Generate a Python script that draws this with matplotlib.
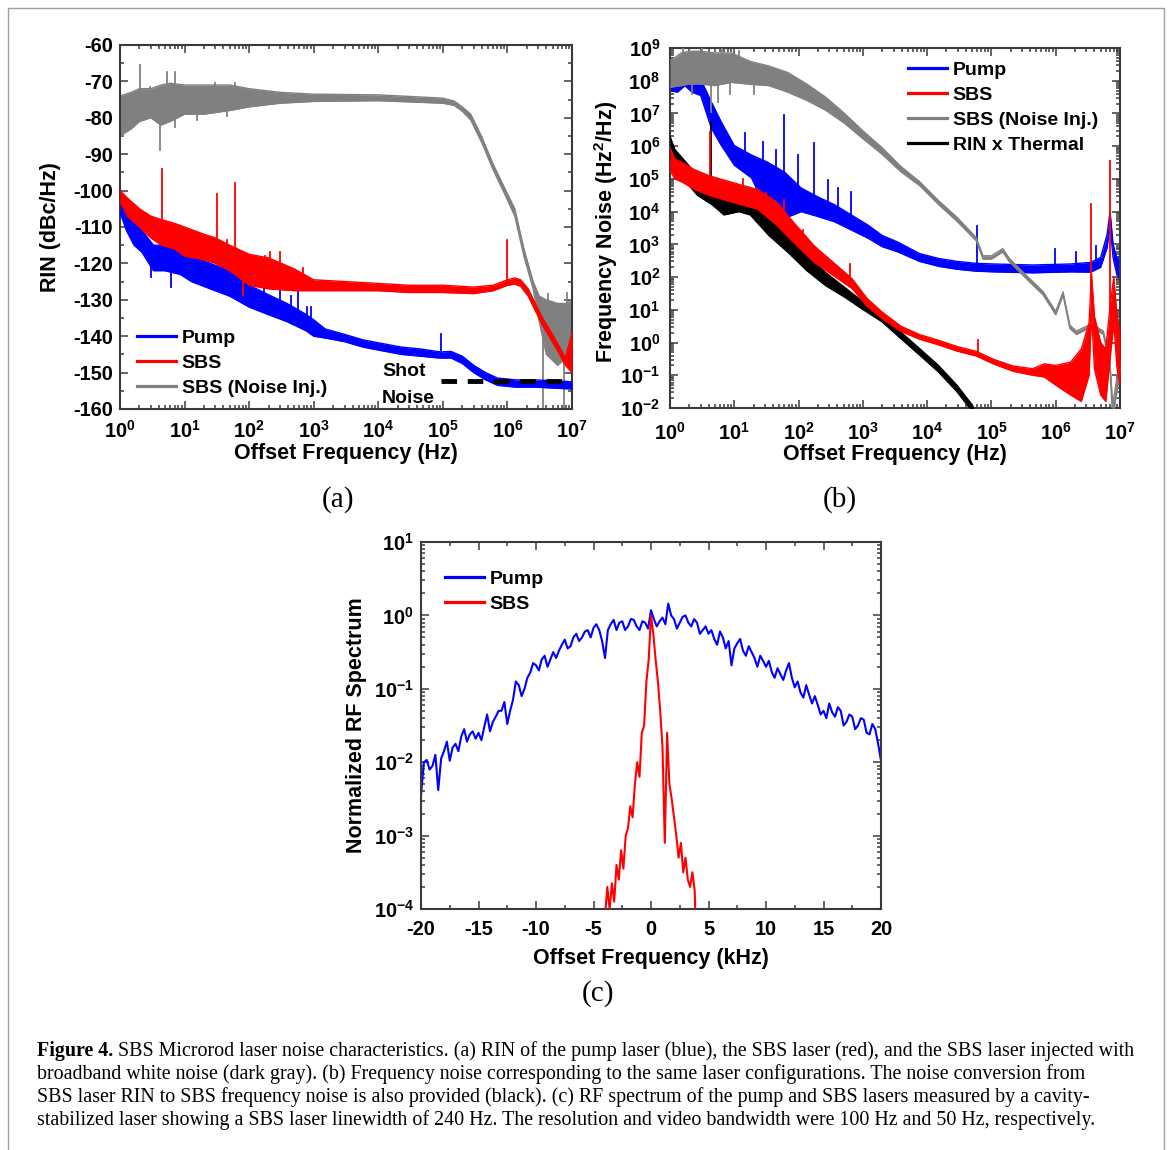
import numpy as np
import matplotlib.pyplot as plt
from matplotlib.ticker import LogLocator, MultipleLocator, FuncFormatter, NullFormatter
from matplotlib.lines import Line2D

plt.rcParams['font.family'] = ['Liberation Sans', 'DejaVu Sans']
plt.rcParams['font.weight'] = 'bold'
plt.rcParams['axes.labelweight'] = 'bold'
plt.rcParams['axes.unicode_minus'] = False
plt.rcParams['mathtext.fontset'] = 'custom'
plt.rcParams['mathtext.rm'] = 'Liberation Sans:bold'
plt.rcParams['mathtext.bf'] = 'Liberation Sans:bold'
plt.rcParams['mathtext.it'] = 'Liberation Sans:bold'

BLUE, RED, GRAY, BLACK = '#0000ff', '#ff0000', '#808080', '#000000'

# ---------------- (a) RIN (dBc/Hz), noise band ----------------
rin_gray_f  = [1, 1.5, 2, 3, 4.3, 6, 10, 20, 50, 100, 300, 1e3, 1e4, 1e5, 1.5e5, 2e5, 2.7e5, 4e5, 6e5, 9e5,
               1.3e6, 1.8e6, 2.5e6, 3.1e6, 4e6, 6e6, 8e6, 1e7]
rin_gray_lo = [-85, -83, -81, -80, -82, -81, -79, -79, -78, -77, -76, -75.5, -75.3, -76, -76.6, -78.2, -80.6, -86.8, -94.3, -100.8,
               -107, -118, -127, -136, -145, -148, -146, -148]
rin_gray_hi = [-74, -73, -72, -72, -71, -70.5, -71, -71, -71, -72, -73, -73.5, -73.7, -74.6, -75.4, -77, -79, -85.2, -92.7, -99.2,
               -105, -116, -125, -129, -130, -131, -131, -130]
# spikes: (freq, from, to)
rin_gray_spikes = [(1.1, -80, -85), (2.04, -76, -65.5), (2.9, -75, -71.5), (4.2, -78, -88.8), (5.3, -74, -67.3),
                   (7.1, -74, -67.5), (7.1, -76, -82.4), (15.4, -76, -80.7), (30, -74, -70.5), (45, -75, -79.5),
                   (60, -74, -70.5), (3.6e6, -140, -160), (4.3e6, -135, -128.5), (7.6e6, -140, -160), (8.5e6, -135, -128)]

rin_sbs_f  = [1, 1.3, 2, 3, 4.4, 7, 10, 20, 30, 50, 100, 200, 500, 1e3, 1e4, 3e4, 1e5, 3e5, 6e5, 1e6,
              1.3e6, 1.6e6, 2.1e6, 2.7e6, 3.5e6, 4.6e6, 6e6, 7.9e6, 1e7]
rin_sbs_lo = [-103, -107, -110, -113, -115, -116, -118, -119, -120, -122, -126, -127, -127.5, -127.5, -127.5, -128, -128, -128.3, -127.5, -126,
              -125.7, -126.3, -129, -133, -137, -140.5, -144, -148, -150]
rin_sbs_hi = [-100, -102, -105, -107, -108, -109, -110, -112, -113, -115, -117.5, -118.5, -121.5, -124.5, -125.5, -126, -126, -126.5, -126, -124.5,
              -124, -124.5, -127, -131, -135, -138.5, -142, -146, -139]
rin_sbs_spikes = [(4.47, -112, -94), (31.8, -117, -101), (59.6, -118, -98), (45, -118, -113.5), (80, -121, -128.7),
                  (174, -121, -118.1), (208, -121, -116.8), (297, -122, -116.8), (680, -124, -121.4), (1e6, -125, -113.5)]

rin_pump_f  = [1, 1.26, 1.65, 2.2, 3.3, 4.9, 8.5, 12.8, 25, 50, 100, 194, 385, 760, 1e3, 1.5e3, 3e3, 5.8e3, 1.14e4, 2.3e4,
               4.5e4, 8.9e4, 1.34e5, 2e5, 3e5, 4.6e5, 7e5, 1.35e6, 2.7e6, 1e7]
rin_pump_lo = [-106, -111, -115, -117, -122, -122, -123, -125, -127, -129, -132, -134, -136, -138.5, -140, -140.5, -141.5, -143, -144, -145,
               -145.5, -146, -146, -147.5, -150, -152, -153.5, -154, -154, -154.5]
rin_pump_hi = [-103, -106, -108, -111, -115, -115, -116, -118, -120, -122, -126, -128.5, -131, -134, -135.5, -138, -139.5, -141, -142, -143,
               -143.5, -144.3, -144.2, -145.5, -148, -150, -151.5, -152, -152, -152.5]
rin_pump_spikes = [(3.05, -118, -123.6), (6.2, -120, -126.4), (167, -130, -124.6), (303, -132, -124.4), (450, -133, -129),
                   (573, -134, -127.3), (795, -136, -132), (920, -136, -132), (9.5e4, -145, -139.5)]

shot_f = [9.3e4, 1e7]
shot_level = -152.3

# ---------------- (b) frequency noise, log10(Hz^2/Hz): mid level and half band ----------------
fn_pump_f   = [1, 1.3, 1.7, 2.2, 3.0, 4.4, 6.2, 10, 18.5, 33, 61, 110, 200, 363, 1.2e3, 2e3, 3.5e3, 7.6e3, 1.5e4, 2.9e4,
               5.8e4, 1.1e5, 4.4e5, 1.7e6, 3.5e6, 5e6, 6.3e6, 7e6, 7.8e6, 9e6, 1e7]
fn_pump_mid = [8.0, 7.95, 8.2, 7.95, 7.8, 6.95, 6.4, 5.72, 5.38, 4.76, 4.5, 4.36, 4.15, 3.95, 3.39, 3.1, 2.92, 2.6, 2.45, 2.36,
               2.3, 2.28, 2.25, 2.28, 2.3, 2.45, 3.1, 3.8, 2.8, 2.3, 2.3]
fn_pump_spr = [0.3, 0.3, 0.35, 0.3, 0.25, 0.4, 0.36, 0.3, 0.35, 0.75, 0.7, 0.36, 0.3, 0.26, 0.2, 0.17, 0.15, 0.12, 0.12, 0.12,
               0.12, 0.12, 0.12, 0.12, 0.15, 0.15, 0.2, 0.2, 0.2, 0.25, 0.35]
fn_pump_spikes = [(14.5, 5.6, 6.39), (28, 5.1, 6.13), (45, 4.9, 5.88), (59, 4.6, 6.95), (98, 4.5, 5.73), (171, 4.2, 6.09),
                  (288, 4.0, 4.96), (410, 3.9, 4.71), (646, 3.6, 4.6), (5.9e4, 2.3, 3.57), (9.8e5, 2.3, 2.86),
                  (2.1e6, 2.3, 2.76), (4.3e6, 2.35, 2.96)]

fn_gray_f   = [1, 1.5, 2, 3, 5, 9, 17.7, 34.6, 68, 134, 263, 518, 1e3, 2e3, 3.9e3, 7.7e3, 1.5e4, 2.9e4, 5.8e4, 7.4e4,
               1e5, 1.5e5, 1.9e5, 3.5e5, 6.4e5, 1e6, 1.3e6, 1.66e6, 2.1e6, 3e6, 3.8e6, 5.5e6, 6.9e6, 7.7e6, 1e7]
fn_gray_mid = [8.2, 8.35, 8.4, 8.4, 8.35, 8.4, 8.24, 8.15, 7.95, 7.65, 7.3, 6.85, 6.35, 5.85, 5.3, 4.85, 4.28, 3.77, 3.16, 2.6,
               2.6, 2.82, 2.52, 2.0, 1.5, 0.9, 1.5, 0.48, 0.3, 0.45, 0.5, 0.3, -0.55, -2.1, -0.7]
fn_gray_spr = [0.4, 0.5, 0.5, 0.5, 0.5, 0.45, 0.35, 0.3, 0.3, 0.25, 0.2, 0.15, 0.12, 0.1, 0.08, 0.06, 0.06, 0.06, 0.05, 0.05,
               0.05, 0.05, 0.05, 0.05, 0.05, 0.05, 0.05, 0.05, 0.05, 0.05, 0.05, 0.05, 0.1, 0.2, 0.2]
fn_gray_spikes = [(1.6, 8.3, 9.0), (2.2, 8.3, 7.6), (3.1, 8.4, 9.0), (4.3, 8.3, 7.05), (5.6, 8.3, 7.36), (6.5, 8.4, 9.0),
                  (8.5, 8.3, 7.6), (12, 8.3, 8.9), (20, 8.2, 7.6)]

fn_sbs_f   = [1, 1.2, 1.56, 2.3, 4, 9, 13.5, 23, 45, 90, 176, 345, 680, 1.16e3, 2e3, 3.9e3, 7.7e3, 1.5e4, 2.9e4, 5.8e4,
              1.1e5, 2.2e5, 4.4e5, 6.6e5, 1e6, 1.7e6, 2.5e6, 3.3e6, 3.6e6, 4e6, 5e6, 6e6, 7e6, 8e6, 9e6, 1e7]
fn_sbs_mid = [5.6, 5.3, 5.2, 5.0, 4.8, 4.6, 4.5, 4.38, 3.95, 3.3, 2.7, 2.25, 1.8, 1.23, 0.83, 0.42, 0.17, 0.0, -0.19, -0.34,
              -0.59, -0.8, -0.9, -0.85, -1.0, -1.1, -1.0, -0.2, 1.5, 0.0, -0.8, -1.0, 0.3, 1.3, 0.0, -0.5]
fn_sbs_spr = [0.35, 0.3, 0.3, 0.3, 0.3, 0.3, 0.3, 0.3, 0.35, 0.3, 0.25, 0.2, 0.15, 0.12, 0.1, 0.08, 0.07, 0.07, 0.07, 0.07,
              0.07, 0.08, 0.1, 0.2, 0.3, 0.5, 0.8, 0.8, 0.6, 0.8, 0.8, 0.8, 0.8, 0.7, 0.8, 0.8]
fn_sbs_spikes = [(4.2, 5.0, 6.44), (13.5, 4.6, 5.0), (31.5, 4.2, 4.56), (59, 3.7, 4.35), (117, 3.0, 3.43), (630, 1.9, 2.4),
                 (6.2e4, -0.3, 0.07), (3.5e6, 1.5, 4.23), (6.9e6, 1.0, 5.55)]

fn_rin_f   = [1, 1.19, 1.79, 2.67, 4.6, 6.9, 11.8, 17.7, 34.6, 68, 134, 263, 518, 1e3, 2e3, 3.9e3, 7.7e3, 1.5e4, 2.9e4, 5.0e4, 6e4]
fn_rin_mid = [6.0, 5.6, 5.2, 4.8, 4.5, 4.2, 4.3, 4.2, 3.57, 3.06, 2.45, 1.94, 1.54, 1.13, 0.73, 0.22, -0.29, -0.8, -1.4, -2.0, -2.3]
fn_rin_spr = [0.3, 0.3, 0.3, 0.3, 0.3, 0.3, 0.3, 0.3, 0.3, 0.3, 0.25, 0.2, 0.15, 0.12, 0.1, 0.1, 0.1, 0.1, 0.1, 0.1, 0.1]
fn_rin_spikes = [(4.4, 4.6, 6.75)]

# ---------------- (c) RF spectrum, log10 of normalized power ----------------
rf_pump_khz = [-20, -19.75, -19.5, -19.25, -19, -18.75, -18.5, -18.25, -18, -17.75,
               -17.5, -17.25, -17, -16.75, -16.5, -16.25, -16, -15.75, -15.5, -15.25,
               -15, -14.75, -14.5, -14.25, -14, -13.75, -13.5, -13.25, -13, -12.75,
               -12.5, -12.25, -12, -11.75, -11.5, -11.25, -11, -10.75, -10.5, -10.25,
               -10, -9.75, -9.5, -9.25, -9, -8.75, -8.5, -8.25, -8, -7.75,
               -7.5, -7.25, -7, -6.75, -6.5, -6.25, -6, -5.75, -5.5, -5.25,
               -5, -4.75, -4.5, -4.25, -4, -3.75, -3.5, -3.25, -3, -2.75,
               -2.5, -2.25, -2, -1.75, -1.5, -1.25, -1, -0.75, -0.5, -0.25,
               0, 0.25, 0.5, 0.75, 1, 1.25, 1.5, 1.75, 2, 2.25,
               2.5, 2.75, 3, 3.25, 3.5, 3.75, 4, 4.25, 4.5, 4.75,
               5, 5.25, 5.5, 5.75, 6, 6.25, 6.5, 6.75, 7, 7.25,
               7.5, 7.75, 8, 8.25, 8.5, 8.75, 9, 9.25, 9.5, 9.75,
               10, 10.25, 10.5, 10.75, 11, 11.25, 11.5, 11.75, 12, 12.25,
               12.5, 12.75, 13, 13.25, 13.5, 13.75, 14, 14.25, 14.5, 14.75,
               15, 15.25, 15.5, 15.75, 16, 16.25, 16.5, 16.75, 17, 17.25,
               17.5, 17.75, 18, 18.25, 18.5, 18.75, 19, 19.25, 19.5, 19.75, 20]
rf_pump_log = [-2.45, -2.0, -1.97, -2.1, -2.05, -1.9, -2.38, -1.95, -1.85, -1.72,
               -1.98, -1.8, -1.75, -1.85, -1.65, -1.55, -1.72, -1.62, -1.58, -1.68,
               -1.6, -1.7, -1.52, -1.35, -1.58, -1.45, -1.38, -1.3, -1.3, -1.18,
               -1.48, -1.3, -1.15, -0.9, -0.95, -1.1, -1.0, -0.85, -0.78, -0.65,
               -0.68, -0.75, -0.6, -0.55, -0.7, -0.6, -0.5, -0.58, -0.48, -0.4,
               -0.33, -0.45, -0.42, -0.3, -0.25, -0.35, -0.3, -0.22, -0.2, -0.3,
               -0.17, -0.12, -0.2, -0.35, -0.58, -0.2, -0.12, -0.06, -0.2, -0.1,
               -0.08, -0.2, -0.15, -0.05, -0.06, -0.15, -0.2, -0.08, -0.1, -0.18,
               0.07, -0.05, -0.15, -0.08, -0.03, -0.12, 0.16, 0.0, -0.05, -0.18,
               -0.1, -0.02, 0.0, -0.1, -0.15, -0.05, -0.1, -0.25, -0.2, -0.15,
               -0.25, -0.2, -0.32, -0.4, -0.22, -0.3, -0.45, -0.35, -0.68, -0.45,
               -0.38, -0.32, -0.48, -0.55, -0.42, -0.5, -0.58, -0.7, -0.55, -0.62,
               -0.7, -0.62, -0.77, -0.85, -0.72, -0.8, -0.88, -0.75, -0.65, -0.85,
               -0.98, -0.9, -1.05, -1.12, -0.95, -1.08, -1.2, -1.1, -1.22, -1.35,
               -1.3, -1.4, -1.2, -1.32, -1.38, -1.25, -1.3, -1.5, -1.45, -1.35,
               -1.38, -1.55, -1.5, -1.4, -1.42, -1.6, -1.62, -1.48, -1.55, -1.75, -1.98]
rf_sbs_khz = [-4.1, -3.8, -3.6, -3.4, -3.2, -3.0, -2.8, -2.6, -2.4, -2.2,
              -2.0, -1.8, -1.6, -1.4, -1.2, -1.0, -0.8, -0.6, -0.4, -0.2,
              0.0, 0.2, 0.4, 0.6, 0.8, 1.0, 1.2, 1.4, 1.6, 1.8,
              2.0, 2.2, 2.4, 2.6, 2.8, 3.0, 3.2, 3.4, 3.6, 3.8, 3.9]
rf_sbs_log = [-4.3, -3.7, -4.0, -3.65, -3.9, -3.4, -3.6, -3.2, -3.45, -3.0,
              -2.9, -2.6, -2.75, -2.3, -2.0, -2.2, -1.6, -1.5, -0.9, -0.6,
              0.0, -0.25, -0.6, -0.9, -1.3, -1.8, -3.1, -1.6, -2.3, -2.5,
              -2.75, -3.0, -3.3, -3.1, -3.5, -3.3, -3.6, -3.7, -3.5, -3.75, -4.3]

caption_lines = [
    "SBS Microrod laser noise characteristics. (a) RIN of the pump laser (blue), the SBS laser (red), and the SBS laser injected with",
    "broadband white noise (dark gray). (b) Frequency noise corresponding to the same laser configurations. The noise conversion from",
    "SBS laser RIN to SBS frequency noise is also provided (black). (c) RF spectrum of the pump and SBS lasers measured by a cavity-",
    "stabilized laser showing a SBS laser linewidth of 240 Hz. The resolution and video bandwidth were 100 Hz and 50 Hz, respectively.",
]

W, H = 1171, 1150
fig = plt.figure(figsize=(W / 100, H / 100), dpi=100)


def add_ax(l, t, r, b):
    return fig.add_axes([l / W, 1 - b / H, (r - l) / W, (b - t) / H])


def style(ax, xpad=8, ypad=5):
    for s in ax.spines.values():
        s.set_linewidth(1.5)
        s.set_color('#3a3a3a')
    ax.tick_params(which='both', direction='in', top=True, right=True, color='#3a3a3a', labelsize=14.4, width=1.1)
    ax.tick_params(which='major', length=6)
    ax.tick_params(which='minor', length=3)
    ax.tick_params(axis='x', which='major', pad=xpad)
    ax.tick_params(axis='y', which='major', pad=ypad)


def band(ax, f, lo, hi, color, z):
    ax.fill_between(f, lo, hi, color=color, lw=0, zorder=z)
    ax.plot(f, lo, color=color, lw=1.0, zorder=z)
    ax.plot(f, hi, color=color, lw=1.0, zorder=z)


def spikes(ax, sp, color, z, exp=False):
    for f, a, b in sp:
        if exp:
            a, b = 10.0 ** a, 10.0 ** b
        ax.plot([f, f], [a, b], color=color, lw=1.3, zorder=z)


def pow_fmt(v, pos):
    return r'$10^{%d}$' % int(round(np.log10(v)))


def legend(ax, items, x, y):
    handles = [Line2D([], [], color=c, lw=2.3) for c, _ in items]
    ax.legend(handles, [t for _, t in items], loc='upper left', bbox_to_anchor=(x / W, 1 - y / H),
              bbox_transform=fig.transFigure, frameon=False, fontsize=14, handlelength=2.0,
              handletextpad=0.3, labelspacing=0.39, borderpad=0, borderaxespad=0)


# ---- panel (a)
ax = add_ax(120, 45, 572, 409)
band(ax, rin_gray_f, rin_gray_lo, rin_gray_hi, GRAY, 2)
spikes(ax, rin_gray_spikes, GRAY, 2)
band(ax, rin_pump_f, rin_pump_lo, rin_pump_hi, BLUE, 3)
spikes(ax, rin_pump_spikes, BLUE, 3)
band(ax, rin_sbs_f, rin_sbs_lo, rin_sbs_hi, RED, 4)
spikes(ax, rin_sbs_spikes, RED, 4)
ax.plot(shot_f, [shot_level, shot_level], color=BLACK, lw=3.5, ls=(0, (3.2, 2.2)), zorder=5)
ax.set_xscale('log')
ax.set_xlim(1, 1e7)
ax.set_ylim(-160, -60)
ax.xaxis.set_major_locator(LogLocator(base=10, numticks=20))
ax.xaxis.set_minor_locator(LogLocator(base=10, subs=range(2, 10), numticks=100))
ax.xaxis.set_major_formatter(FuncFormatter(pow_fmt))
ax.xaxis.set_minor_formatter(NullFormatter())
ax.yaxis.set_major_locator(MultipleLocator(10))
ax.yaxis.set_minor_locator(MultipleLocator(5))
style(ax)
ax.set_xlabel('Offset Frequency (Hz)', fontsize=15.5)
ax.set_ylabel('RIN (dBc/Hz)', fontsize=15.5)
ax.xaxis.set_label_coords(0.5, -0.093)
ax.yaxis.set_label_coords(-0.13, 0.5)
ax.text(0.58, 0.103, 'Shot', transform=ax.transAxes, fontsize=14, va='center', ha='left')
ax.text(0.58, 0.03, 'Noise', transform=ax.transAxes, fontsize=14, va='center', ha='left')
legend(ax, [(BLUE, 'Pump'), (RED, 'SBS'), (GRAY, 'SBS (Noise Inj.)')], 137, 329)

# ---- panel (b)
ax = add_ax(670, 48, 1120, 408)


def band_exp(ax, f, mid, spr, color, z):
    mid = np.array(mid)
    spr = np.array(spr)
    band(ax, f, 10.0 ** (mid - spr), 10.0 ** (mid + spr), color, z)


band_exp(ax, fn_pump_f, fn_pump_mid, fn_pump_spr, BLUE, 2)
spikes(ax, fn_pump_spikes, BLUE, 2, exp=True)
band_exp(ax, fn_gray_f, fn_gray_mid, fn_gray_spr, GRAY, 3)
spikes(ax, fn_gray_spikes, GRAY, 3, exp=True)
band_exp(ax, fn_rin_f, fn_rin_mid, fn_rin_spr, BLACK, 4)
spikes(ax, fn_rin_spikes, BLACK, 4, exp=True)
band_exp(ax, fn_sbs_f, fn_sbs_mid, fn_sbs_spr, RED, 5)
spikes(ax, fn_sbs_spikes, RED, 5, exp=True)
ax.set_xscale('log')
ax.set_yscale('log')
ax.set_xlim(1, 1e7)
ax.set_ylim(1e-2, 1e9)
for axis in (ax.xaxis, ax.yaxis):
    axis.set_major_locator(LogLocator(base=10, numticks=20))
    axis.set_minor_locator(LogLocator(base=10, subs=range(2, 10), numticks=100))
    axis.set_major_formatter(FuncFormatter(pow_fmt))
    axis.set_minor_formatter(NullFormatter())
style(ax, xpad=10, ypad=7)
ax.set_xlabel('Offset Frequency (Hz)', fontsize=15.5)
ax.set_ylabel(r'Frequency Noise (Hz$^2$/Hz)', fontsize=15.5)
ax.xaxis.set_label_coords(0.5, -0.1)
ax.yaxis.set_label_coords(-0.111, 0.49)
legend(ax, [(BLUE, 'Pump'), (RED, 'SBS'), (GRAY, 'SBS (Noise Inj.)'), (BLACK, 'RIN x Thermal')], 908, 61)

# ---- panel (c)
ax = add_ax(421, 542, 881, 909)
ax.plot(rf_pump_khz, 10.0 ** np.array(rf_pump_log), color=BLUE, lw=1.5, zorder=2)
ax.plot(rf_sbs_khz, 10.0 ** np.array(rf_sbs_log), color=RED, lw=1.5, zorder=3)
ax.set_yscale('log')
ax.set_xlim(-20, 20)
ax.set_ylim(1e-4, 1e1)
ax.xaxis.set_major_locator(MultipleLocator(5))
ax.xaxis.set_minor_locator(MultipleLocator(2.5))
ax.yaxis.set_major_locator(LogLocator(base=10, numticks=20))
ax.yaxis.set_minor_locator(LogLocator(base=10, subs=range(2, 10), numticks=100))
ax.yaxis.set_major_formatter(FuncFormatter(pow_fmt))
ax.yaxis.set_minor_formatter(NullFormatter())
style(ax)
ax.set_xlabel('Offset Frequency (kHz)', fontsize=15.5)
ax.set_ylabel('Normalized RF Spectrum', fontsize=15.5)
ax.xaxis.set_label_coords(0.5, -0.105)
ax.yaxis.set_label_coords(-0.117, 0.5)
legend(ax, [(BLUE, 'Pump'), (RED, 'SBS')], 445, 570)

# ---- panel tags
serif = ['Liberation Serif', 'DejaVu Serif']
for tag, x, y in [('(a)', 338, 500), ('(b)', 840, 500), ('(c)', 598, 994)]:
    fig.text(x / W, 1 - y / H, tag, family=serif, weight='normal', fontsize=21, ha='center', va='center')

# ---- outer frame
fig.add_artist(Line2D([8 / W, 8 / W, 1164 / W, 1164 / W], [0, 1 - 8 / H, 1 - 8 / H, 0],
                      transform=fig.transFigure, color='#a0a0a0', lw=1.0))

# ---- caption, fitted to the width of the first line
renderer = fig.canvas.get_renderer()
x0, x1 = 37, 1130
size = 13.0
probe_b = fig.text(0, 0, 'Figure 4.', family=serif, weight='bold', fontsize=size)
probe_r = fig.text(0, 0, ' ' + caption_lines[0], family=serif, weight='normal', fontsize=size)
wb = probe_b.get_window_extent(renderer).width
wr = probe_r.get_window_extent(renderer).width
probe_b.remove()
probe_r.remove()
size = size * (x1 - x0) / (wb + wr)
ys = [1051, 1074, 1097, 1120]
for i, (line, y) in enumerate(zip(caption_lines, ys)):
    xs = x0
    if i == 0:
        t = fig.text(x0 / W, 1 - y / H, 'Figure 4.', family=serif, weight='bold', fontsize=size, va='center')
        xs = x0 + t.get_window_extent(renderer).width
        line = ' ' + line
    fig.text(xs / W, 1 - y / H, line, family=serif, weight='normal', fontsize=size, va='center')

fig.savefig('out.png', dpi=100)
